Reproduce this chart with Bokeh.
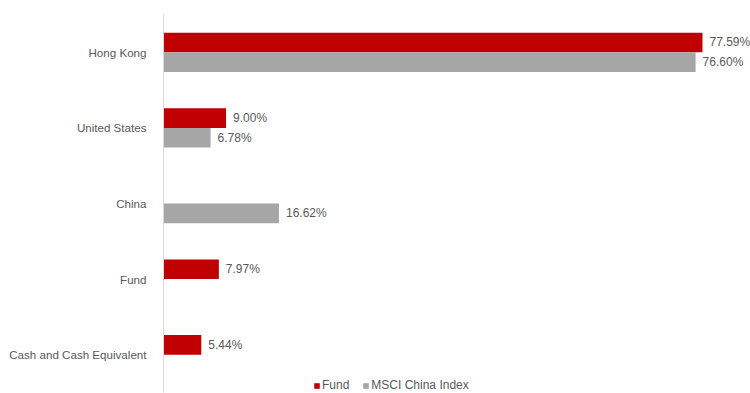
from bokeh.plotting import figure
from bokeh.models import ColumnDataSource, Legend, LegendItem, FactorRange
from bokeh.transform import dodge
from bokeh.core.properties import value
from bokeh.embed import file_html
from bokeh.resources import INLINE

categories = ["Hong Kong", "United States", "China", "Fund", "Cash and Cash Equivalent"]
fund = [77.59, 9.00, None, 7.97, 5.44]
msci = [76.60, 6.78, 16.62, None, None]
series_names = ["Fund", "MSCI China Index"]
colors = ["#c00000", "#a6a6a6"]

FONT = "Liberation Sans"
TXT = "#595959"

p = figure(width=750, height=393,
           y_range=FactorRange(factors=categories[::-1], range_padding=0),
           x_range=(0, 84.5), x_axis_location=None,
           output_backend="svg", toolbar_location=None,
           min_border_left=163, min_border_top=14, min_border_bottom=1,
           min_border_right=0)
p.outline_line_color = None
p.xgrid.visible = False
p.ygrid.visible = False
p.background_fill_color = "white"
p.border_fill_color = "white"

ax = p.yaxis[0]
ax.axis_line_color = "#d9d9d9"
ax.major_tick_line_color = None
ax.minor_tick_line_color = None
ax.major_label_standoff = 11
ax.major_label_text_font = FONT
ax.major_label_text_font_size = "11.6px"
ax.major_label_text_color = TXT

items = []
offsets = [0.13, -0.13]
for vals, name, col, off in zip([fund, msci], series_names, colors, offsets):
    cats = [c for c, v in zip(categories, vals) if v is not None]
    vs = [v for v in vals if v is not None]
    src = ColumnDataSource(dict(cat=cats, val=vs, lab=[f"{v:.2f}%" for v in vs]))
    r = p.hbar(y=dodge("cat", off, range=p.y_range), right="val", left=0,
               height=0.26, source=src, fill_color=col, line_color=None)
    p.text(x="val", y=dodge("cat", off, range=p.y_range), text="lab", source=src,
           x_offset=7, text_baseline="middle", text_align="left",
           text_font=value(FONT), text_font_size="12px", text_color=TXT)
    items.append(LegendItem(label=name, renderers=[r]))

legend = Legend(items=items, orientation="horizontal", location=(150, 0),
                glyph_width=7, glyph_height=7, label_standoff=2, spacing=13,
                padding=0, margin=0, border_line_color=None,
                background_fill_alpha=0, label_height=12,
                label_text_font=FONT, label_text_font_size="12px",
                label_text_color=TXT)
p.add_layout(legend, "center")

open("out.html", "w").write(file_html(p, INLINE))
